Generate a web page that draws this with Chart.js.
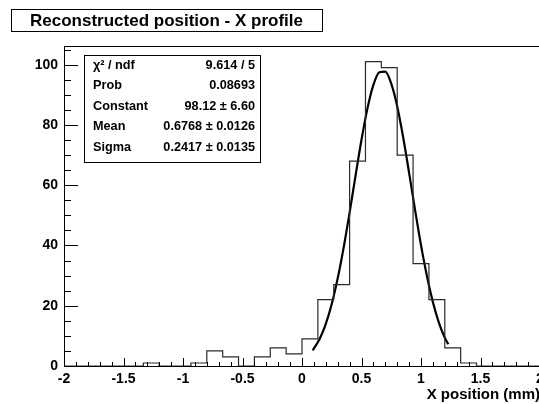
<!DOCTYPE html>
<html>
<head>
<meta charset="utf-8">
<script src="https://cdn.jsdelivr.net/npm/chart.js@4.4.1/dist/chart.umd.min.js"></script>
<style>
html, body {margin:0; padding:0; background:#fff; overflow:hidden; width:539px; height:404px;}
canvas {display:block;}
</style>
</head>
<body>
<canvas id="chart" width="560" height="404"></canvas>
<script>
//histogram binning, 30 bins over -2..2 mm
var xMin = -2, xMax = 2, nBins = 30;
var counts = [0, 0, 0, 0, 0, 1, 0, 0, 1, 5, 3, 0, 3, 6, 4, 9, 22, 27, 68, 101, 99, 70, 34, 22, 6, 1, 0, 0, 0, 0];

//gaussian fit curve
var fitX = [0.09, 0.15, 0.2, 0.25, 0.3, 0.35, 0.4, 0.45, 0.5, 0.55, 0.6, 0.65, 0.7, 0.75, 0.8, 0.85, 0.9, 0.95, 1.0, 1.05, 1.1, 1.15, 1.2, 1.23];
var fitY = [5.2, 9.1, 14.0, 20.6, 29.1, 39.3, 50.9, 63.2, 75.1, 85.5, 93.3, 97.5, 97.7, 93.7, 86.2, 75.9, 64.1, 51.8, 40.1, 29.8, 21.2, 14.4, 9.4, 7.2];

//stats box
var statLabels = ['\u03c7\u00b2 / ndf', 'Prob', 'Constant', 'Mean', 'Sigma'];
var statValues = ['9.614 / 5', '0.08693', '98.12 \u00b1 6.60', '0.6768 \u00b1 0.0126', '0.2417 \u00b1 0.0135'];

var titleText = 'Reconstructed position - X profile';
var xTitle = 'X position (mm)';

var fam = '"Liberation Sans", Arial, Helvetica, sans-serif';

//step points at the lower edge of each bin
var binW = (xMax - xMin) / nBins;
var histPts = counts.map(function(c, i) {return {x: xMin + i * binW, y: c};});
histPts.push({x: xMax, y: 0});
var fitPts = fitX.map(function(v, i) {return {x: v, y: fitY[i]};});

//ROOT style frame, inward ticks, title and stats boxes
var rootDeco = {
	id: 'rootDeco',
	afterDraw: function(chart) {
		var c = chart.ctx, a = chart.chartArea;
		var xs = chart.scales.x, ys = chart.scales.y;
		c.save();
		c.strokeStyle = '#000';
		c.lineWidth = 1;
		c.strokeRect(Math.round(a.left) + 0.5, Math.round(a.top) + 0.5, a.right - a.left, a.bottom - a.top);
		c.beginPath();
		var v, p, len;
		for (v = 0; v <= 105; v += 5) {
			p = Math.round(ys.getPixelForValue(v)) + 0.5;
			len = v % 20 === 0 ? 14 : 7;
			c.moveTo(a.left, p); c.lineTo(a.left + len, p);
		}
		for (var k = -20; k <= 20; k++) {
			p = Math.round(xs.getPixelForValue(k / 10)) + 0.5;
			len = k % 5 === 0 ? 8 : 4;
			c.moveTo(p, a.bottom); c.lineTo(p, a.bottom - len);
		}
		c.stroke();

		//title box
		c.fillStyle = '#fff';
		c.fillRect(11, 9, 311, 22);
		c.strokeRect(11.5, 9.5, 311, 22);
		c.fillStyle = '#000';
		c.font = 'bold 17px ' + fam;
		c.textAlign = 'center';
		c.textBaseline = 'middle';
		c.fillText(titleText, 166.5, 21);

		//stats box
		c.fillStyle = '#fff';
		c.fillRect(84, 55, 176, 107);
		c.strokeRect(84.5, 55.5, 176, 107);
		c.fillStyle = '#000';
		c.font = 'bold 12.7px ' + fam;
		for (var i = 0; i < statLabels.length; i++) {
			var y = 65.5 + i * 20.4;
			c.textAlign = 'left';
			c.fillText(statLabels[i], 93, y);
			c.textAlign = 'right';
			c.fillText(statValues[i], 255, y);
		}
		c.restore();
	}
};

var tickFont = {family: fam, weight: 'bold', size: 14};

var ctx = document.getElementById('chart').getContext('2d');
var chart = new Chart(ctx, {
	type: 'line',
	data: {
		datasets: [{
			label: 'histogram',
			data: histPts,
			stepped: 'before',
			borderColor: '#2a2a2a',
			borderWidth: 1.2,
			pointRadius: 0,
			fill: false
		}, {
			label: 'gaus fit',
			data: fitPts,
			borderColor: '#000',
			borderWidth: 2.2,
			pointRadius: 0,
			cubicInterpolationMode: 'monotone',
			fill: false
		}]
	},
	options: {
		responsive: false,
		animation: false,
		devicePixelRatio: 1,
		layout: {padding: {left: 0, top: 46, right: 20, bottom: 0}},
		plugins: {legend: {display: false}, tooltip: {enabled: false}},
		scales: {
			x: {
				type: 'linear',
				min: xMin,
				max: xMax,
				grid: {display: false, drawTicks: false, tickLength: 0},
				border: {display: false},
				ticks: {
					stepSize: 0.5,
					autoSkip: false,
					maxRotation: 0,
					padding: 5,
					color: '#000',
					font: tickFont,
					callback: function(v) {return String(Math.round(v * 10) / 10);}
				},
				title: {
					display: true,
					text: xTitle,
					align: 'end',
					color: '#000',
					font: {family: fam, weight: 'bold', size: 15, lineHeight: 1.2},
					padding: {top: 0, bottom: 0}
				},
				afterFit: function(s) {s.height = 38;}
			},
			y: {
				min: 0,
				max: 106.2,
				grid: {display: false, drawTicks: false, tickLength: 0},
				border: {display: false},
				ticks: {
					stepSize: 20,
					includeBounds: false,
					padding: 6,
					color: '#000',
					font: tickFont
				},
				afterFit: function(s) {s.width = 64;}
			}
		}
	},
	plugins: [rootDeco]
});
</script>
</body>
</html>
